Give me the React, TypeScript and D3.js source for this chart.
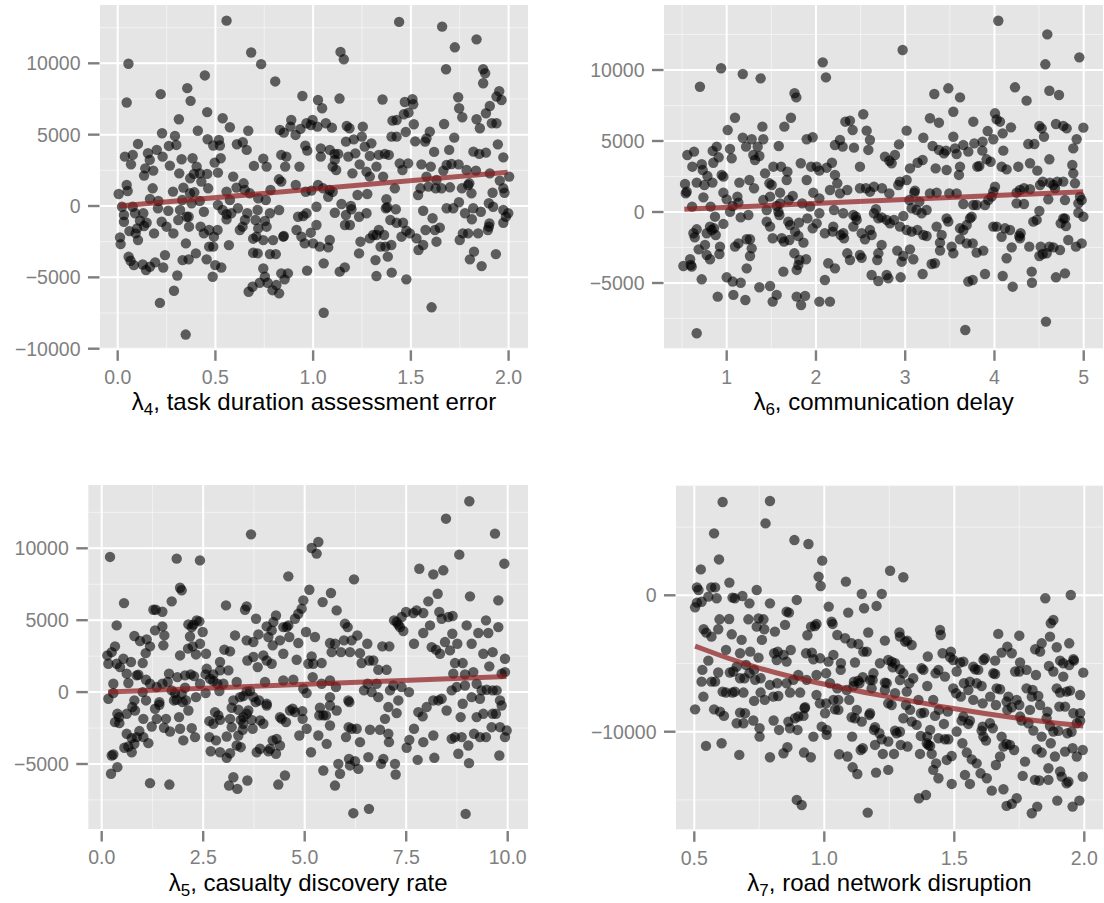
import React from 'react';
import * as d3 from 'd3';

type Pt = [number, number];

// ---------- λ4, task duration assessment error ----------
const lambda4Points: Pt[] = [
[0.557,12990],[0.055,9970],[0.046,7250],[0.22,7840],[0.356,8260],[0.373,7370],[0.446,9150],[0.458,6580],[0.683,10760],[0.734,9940],[0.806,8730],[0.313,6080],[0.537,6150],[0.574,5520],[0.41,5270],[0.46,4680],[0.518,4630],[0.489,4240],[0.523,4240],[0.668,5270],[0.61,4330],[0.64,4470],[0.66,3930],[0.227,5100],[0.293,4910],[0.262,4210],[0.3,4280],[0.104,4350],[0.037,3460],[0.077,3580],[0.068,2920],[0.155,3700],[0.2,3930],[0.164,3230],[0.23,3460],[0.141,2640],[0.182,2480],[0.135,2130],[0.267,2830],[0.327,3280],[0.383,3350],[0.404,2760],[0.39,2250],[0.42,2290],[0.315,2290],[0.371,1940],[0.458,2250],[0.496,3040],[0.527,3350],[0.513,2340],[0.428,1710],[0.697,2810],[0.745,3320],[0.762,2760],[0.591,2060],[0.644,1590],[0.608,1290],[0.65,1120],[0.046,1470],[0.005,840],[0.051,1050],[0.179,1240],[0.283,1010],[0.336,1290],[0.37,890],[0.392,960],[0.463,1240],[0.557,1010],[0.574,420],[0.676,890],[0.719,540],[0.758,420],[0.782,1120],[0.022,-50],[0.077,-50],[0.032,-630],[0.032,-1100],[0.089,-510],[0.131,-510],[0.165,490],[0.208,350],[0.206,-160],[0.259,-330],[0.319,-280],[0.33,420],[0.378,190],[0.42,350],[0.441,-400],[0.31,-980],[0.363,-750],[0.513,70],[0.537,-280],[0.557,-580],[0.581,-510],[0.615,-160],[0.663,-510],[0.716,-280],[0.779,-510],[0.753,-1050],[0.114,-1030],[0.148,-1170],[0.099,-1570],[0.092,-1920],[0.06,-1760],[0.135,-1400],[0.186,-1920],[0.225,-1100],[0.25,-1450],[0.285,-1920],[0.353,-750],[0.365,-1450],[0.424,-1450],[0.441,-1920],[0.468,-1680],[0.492,-2150],[0.511,-1680],[0.557,-940],[0.625,-1680],[0.639,-1450],[0.651,-980],[0.705,-980],[0.719,-1570],[0.762,-1450],[0.693,-2290],[0.71,-2150],[0.745,-2390],[0.795,-2390],[0.012,-2200],[0.015,-2670],[0.104,-2390],[0.349,-2620],[0.468,-2850],[0.489,-2850],[0.569,-2740],[0.693,-3280],[0.716,-3320],[0.779,-3370],[0.242,-3440],[0.233,-4310],[0.056,-3560],[0.066,-3840],[0.083,-4140],[0.128,-4100],[0.145,-4490],[0.165,-4260],[0.192,-3950],[0.332,-3790],[0.363,-3740],[0.4,-3320],[0.455,-3740],[0.499,-4140],[0.53,-4310],[0.305,-4870],[0.486,-4960],[0.288,-5940],[0.745,-4380],[0.753,-4960],[0.727,-5380],[0.69,-5660],[0.67,-6010],[0.767,-5380],[0.792,-5900],[0.216,-6790],[0.348,-9010],
[1.44,12900],[1.66,12570],[1.725,11120],[1.836,11680],[1.68,9580],[1.87,9580],[1.88,9300],[1.87,8600],[1.14,10800],[1.157,10280],[0.945,7710],[1.025,7430],[1.046,6850],[1.135,7530],[1.355,7460],[1.469,7290],[1.508,7480],[1.512,7130],[1.742,7620],[1.747,6850],[1.763,6220],[1.952,8040],[1.964,7430],[1.938,7670],[1.904,7010],[1.884,6500],[1.914,5800],[1.938,5800],[1.836,6080],[1.853,5450],[1.67,5750],[1.406,5980],[1.427,6030],[1.464,6430],[1.488,6540],[1.515,5730],[1.474,5190],[1.427,4860],[1.401,4860],[1.522,4530],[1.58,4740],[1.597,5210],[1.722,4790],[1.696,3930],[1.945,4320],[1.973,3410],[1.82,3810],[1.85,3650],[1.884,3740],[1.619,3790],[1.573,4510],[0.83,5330],[0.85,5140],[0.888,6030],[0.884,5560],[0.91,4980],[0.935,5400],[0.966,5800],[0.988,5680],[0.997,6030],[1.022,5560],[1.065,5800],[1.096,5490],[1.172,5610],[1.186,5450],[1.254,5560],[0.96,4230],[0.97,3880],[1.039,4040],[1.039,3460],[1.085,3930],[1.11,3650],[1.128,3650],[1.111,3230],[1.1,2760],[1.118,2520],[1.168,4510],[1.208,4670],[1.249,4860],[1.216,3690],[1.18,3460],[1.264,4160],[1.298,4390],[1.29,3510],[1.336,3580],[1.367,3650],[1.387,3580],[1.238,2920],[1.201,2290],[1.273,2410],[1.324,2760],[1.29,2060],[1.358,2060],[1.443,2990],[1.457,2520],[1.486,2990],[1.554,2920],[1.602,2760],[1.58,2060],[1.666,2480],[1.683,2870],[1.708,2940],[1.744,2920],[1.785,2520],[1.833,2480],[1.904,2290],[1.955,1780],[2.003,2060],[1.973,1240],[1.918,930],[1.979,930],[0.837,3580],[0.863,3460],[0.857,2760],[0.93,2760],[0.825,1870],[0.837,1710],[0.911,1470],[0.962,1000],[0.991,1080],[1.025,1470],[1.051,1240],[1.085,1120],[1.1,1000],[1.077,650],[1.227,770],[1.277,840],[1.418,1240],[1.537,770],[1.549,1240],[1.59,1360],[1.627,1240],[1.631,1820],[1.657,1240],[1.7,1310],[1.761,1240],[1.793,1470],[1.799,1590],[1.81,890],[1.375,470],[1.372,-160],[1.423,-230],[1.379,-90],[1.145,140],[1.193,0],[1.017,-50],[1.111,-470],[0.826,-280],[0.923,-750],[0.949,-700],[0.966,-510],[0.915,-1680],[0.94,-2150],[0.847,-2150],[0.988,-1870],[1.017,-1330],[0.957,-2620],[1.0,-2620],[1.034,-2850],[1.077,-2900],[1.085,-2380],[1.168,-630],[1.196,-230],[1.163,-1330],[1.188,-1330],[1.235,-750],[1.273,-510],[1.307,-2030],[1.242,-2500],[1.235,-3320],[1.29,-2270],[1.324,-2030],[1.336,-1680],[1.345,-2850],[1.363,-2030],[1.37,-2850],[1.382,-3550],[1.319,-3790],[1.324,-4910],[1.4,-2730],[1.395,-980],[1.427,-1170],[1.46,-1170],[1.452,-2150],[1.477,-1730],[1.495,-1920],[1.529,-2270],[1.539,-3080],[1.563,-2730],[1.402,-4670],[1.477,-5140],[1.563,-330],[1.611,-860],[1.575,-1680],[1.623,-1680],[1.631,-2500],[1.648,-1520],[1.683,-160],[1.717,-160],[1.746,260],[1.777,-510],[1.819,-160],[1.812,-930],[1.75,-2380],[1.766,-1920],[1.793,-1920],[1.844,-1920],[1.894,-1680],[1.902,-1220],[1.899,-1450],[1.858,-400],[1.899,190],[1.921,-50],[1.973,-280],[1.986,-750],[1.998,-510],[1.973,-1170],[1.802,-3740],[1.823,-3200],[1.862,-4210],[1.935,-3370],[1.606,-7100],[1.054,-7480],[1.136,-4600],[1.162,-4300],[0.969,-4530],[1.054,-4020],[0.854,-5140],[0.837,-4720],[0.871,-4720],[0.812,-5540],[0.826,-6120],[0.85,-2100],[0.809,-3370]
];
const lambda4Smooth: Pt[] = [[0.007, 0], [1.995, 2360]];
const lambda4XTicks = [0, 0.5, 1, 1.5, 2];
const lambda4YTicks = [-10000, -5000, 0, 5000, 10000];

// ---------- λ6, communication delay ----------
const lambda6Points: Pt[] = [
[0.937,10120],[1.18,9720],[1.38,9410],[0.70,8820],[1.76,8360],[1.78,8070],[2.076,10540],[1.093,6640],[1.011,5770],[1.72,6640],[1.646,6010],[1.4,6010],[1.18,5230],[1.28,5120],[1.41,5120],[1.217,4600],[1.347,4600],[1.583,4650],[1.896,5120],[1.963,5260],[0.888,4600],[1.037,4440],[1.056,3780],[0.634,4250],[0.559,4010],[0.843,4300],[0.91,3850],[0.85,3470],[0.72,3360],[0.615,3190],[0.731,2960],[0.784,2530],[0.944,2610],[0.963,2490],[1.317,3660],[1.298,4010],[1.366,3940],[1.43,2720],[1.523,3190],[1.609,3190],[1.68,2840],[1.672,2250],[1.83,3430],[1.896,2250],[1.945,3190],[2.008,3190],[2.038,2910],[1.254,2250],[1.306,1670],[1.478,2020],[1.504,1900],[1.598,1360],[1.598,610],[1.74,1130],[0.533,1970],[0.541,1310],[0.552,1430],[0.664,2070],[0.75,1900],[0.84,2070],[0.739,1030],[0.82,380],[0.963,1360],[1.0,890],[1.12,1080],[1.131,660],[1.142,2070],[1.067,420],[0.612,380],[1.448,140],[1.41,840],[1.486,1080],[1.56,420],[1.579,20],[1.695,840],[1.845,610],[1.934,380],[1.97,1360],[2.038,960],[1.037,20],[1.157,-380],[1.243,-210],[0.869,-330],[0.963,-840],[1.448,-680],[1.486,-1030],[1.59,-210],[1.69,-680],[1.71,-920],[1.81,-750],[1.766,-1380],[1.904,-450],[2.008,-800],[2.038,-90],[1.963,-1150],[0.627,-1500],[0.642,-1780],[0.664,-1220],[0.776,-1500],[0.813,-1030],[0.832,-1270],[0.858,-1150],[0.877,-1620],[0.757,-2320],[0.686,-2630],[0.776,-3030],[0.925,-2440],[0.918,-2960],[0.813,-3330],[1.093,-2440],[1.131,-2210],[1.224,-1920],[1.261,-1920],[1.28,-2560],[1.261,-3100],[1.515,-1850],[1.616,-1850],[1.642,-2090],[1.702,-1970],[1.803,-1690],[1.86,-2160],[1.758,-2910],[1.814,-3380],[1.889,-3330],[1.803,-3730],[1.784,-4080],[1.635,-4200],[2.10,-1500],[0.515,-3800],[0.59,-3330],[0.597,-3730],[0.608,-3850],[0.72,-4740],[1.0,-4600],[1.067,-4900],[1.157,-4980],[1.224,-3970],[1.366,-5300],[1.486,-5210],[1.56,-5840],[1.515,-6310],[0.899,-5960],[1.075,-5840],[1.209,-6200],[1.784,-5960],[1.833,-6550],[1.878,-5910],[2.038,-6310],[0.664,-8540],[2.10,-4790],
[2.112,9480],[4.043,13470],[4.592,12510],[4.57,10400],[4.951,10890],[2.971,11410],[3.483,8710],[3.326,8310],[3.614,8070],[3.539,7060],[4.23,8780],[4.36,7840],[4.615,8540],[4.723,8240],[2.53,6880],[2.329,6360],[2.381,6430],[2.411,5770],[2.568,5730],[2.605,5070],[2.587,4370],[2.269,5070],[2.213,4720],[2.299,4600],[2.426,4530],[2.493,3190],[2.179,3470],[2.213,2610],[2.12,3120],[2.93,4760],[3.016,5730],[3.277,6600],[3.378,6290],[3.203,5230],[3.307,4650],[3.378,4370],[3.457,4320],[3.434,4130],[3.539,5300],[3.558,4480],[3.576,4080],[3.651,4720],[3.707,4250],[3.763,6360],[3.774,4830],[3.867,4950],[3.864,4320],[3.924,5700],[3.987,5120],[4.006,6950],[4.024,6520],[4.062,6360],[4.099,4320],[4.185,5960],[4.092,5540],[4.379,4790],[4.447,4790],[4.503,6060],[4.529,5890],[4.555,5300],[4.689,6200],[4.771,6060],[4.809,5890],[4.996,5940],[4.921,5120],[4.883,4480],[4.872,3310],[4.883,2720],[4.902,2020],[4.615,3710],[4.398,3430],[4.48,2910],[4.267,3190],[4.136,3000],[4.08,3190],[3.957,3540],[3.912,3710],[3.83,3240],[3.808,3190],[3.614,3190],[3.602,2610],[3.464,2960],[3.341,3070],[3.195,3660],[3.139,3470],[3.053,3070],[3.016,2250],[2.941,2140],[2.923,1900],[2.822,3610],[2.848,3430],[2.773,3900],[2.885,4010],[2.493,1670],[2.56,1670],[2.605,1430],[2.65,1780],[2.74,1670],[2.822,1310],[2.239,2020],[2.157,1550],[2.351,1550],[3.109,1500],[3.102,1360],[3.277,1310],[3.352,1360],[3.494,1310],[3.576,1310],[4.006,1780],[3.987,1430],[3.968,1080],[3.931,840],[4.248,1360],[4.286,1550],[4.331,1670],[4.398,1600],[4.51,1900],[4.54,2140],[4.66,1900],[4.678,1670],[4.622,2070],[4.704,2140],[4.771,2140],[4.958,1080],[4.977,840],[4.94,610],[4.79,840],[4.603,890],[4.503,70],[4.331,560],[4.248,610],[3.8,490],[3.894,490],[3.763,490],[3.651,560],[3.158,730],[3.128,140],[3.072,260],[3.046,840],[3.24,140],[3.184,-90],[2.269,1310],[2.202,140],[2.306,-90],[2.419,-210],[2.448,-330],[2.672,190],[2.65,-90],[2.699,-450],[2.736,-380],[2.792,-560],[2.829,-800],[2.874,-560],[2.979,-280],[2.941,-1030],[3.016,-1270],[3.072,-1380],[3.136,-1270],[3.203,-1620],[3.24,-1690],[3.352,-1030],[3.408,-1620],[3.464,-450],[3.483,-680],[3.614,-1150],[3.689,-920],[3.726,-450],[3.744,-330],[3.651,-1270],[3.614,-1920],[3.689,-2210],[3.756,-2210],[3.8,-2860],[3.875,-2720],[3.539,-2910],[3.52,-2440],[3.39,-2160],[3.39,-2720],[3.333,-3610],[3.296,-3660],[3.195,-4370],[3.091,-3330],[3.053,-2630],[2.979,-3100],[2.911,-2720],[2.96,-3500],[2.949,-4600],[2.792,-4440],[2.811,-4670],[2.699,-4860],[2.624,-4440],[2.699,-2910],[2.687,-3380],[2.736,-2320],[2.624,-1620],[2.605,-1270],[2.512,-1500],[2.549,-1920],[2.493,-3030],[2.512,-3220],[2.381,-3380],[2.351,-2910],[2.306,-1500],[2.314,-1850],[2.277,-1620],[2.194,-1030],[2.419,-1030],[2.456,-560],[2.187,-1380],[2.138,-3610],[2.213,-3970],[2.157,-6310],[3.987,-1030],[4.024,-1030],[4.08,-1740],[4.118,-1150],[4.174,-1270],[4.193,-2490],[4.136,-3260],[4.092,-4510],[4.204,-5260],[4.278,-1690],[4.286,-1850],[4.293,-1500],[4.39,-2440],[4.435,-680],[4.473,-560],[4.518,-2440],[4.503,-3100],[4.54,-2960],[4.585,-2910],[4.615,-2440],[4.66,-2490],[4.734,-2680],[4.742,-800],[4.771,-450],[4.801,-990],[4.827,-1970],[4.79,-450],[4.94,-50],[4.996,-330],[4.913,-2440],[4.977,-2210],[4.417,-4200],[4.42,-4980],[4.689,-4600],[4.79,-4320],[3.894,-4370],[3.707,-4900],[3.756,-4790],[4.577,-7720],[3.673,-8310]
];
const lambda6Smooth: Pt[] = [[0.525, 190], [4.995, 1430]];
const lambda6XTicks = [1, 2, 3, 4, 5];
const lambda6YTicks = [-5000, 0, 5000, 10000];

// ---------- λ5, casualty discovery rate ----------
const lambda5Points: Pt[] = [
[0.205,9400],[1.847,9280],[2.42,9160],[3.678,10970],[1.93,7260],[1.97,7080],[1.724,6310],[0.55,6190],[1.273,5730],[1.33,5730],[1.494,5590],[3.062,6030],[3.53,5730],[3.571,5960],[3.801,5100],[0.369,4640],[0.328,3180],[0.246,2780],[0.164,1970],[0.14,2550],[0.369,1970],[0.534,2320],[0.452,1740],[0.722,2090],[0.616,1280],[0.657,630],[0.287,580],[0.164,-460],[0.287,-70],[0.805,3900],[0.944,3550],[1.108,3670],[1.19,3180],[1.314,4290],[1.494,4570],[1.543,3940],[1.519,3250],[1.084,2710],[1.01,2020],[0.862,1160],[0.903,1210],[1.092,860],[1.01,0],[0.805,-580],[0.755,-1040],[0.821,-1280],[0.616,-1510],[0.386,-1510],[0.427,-1740],[0.328,-2090],[0.435,-2160],[1.026,-1860],[1.092,-580],[1.314,-1160],[1.42,-700],[1.355,-1860],[1.42,-880],[1.584,-1860],[1.535,-2480],[1.683,-2740],[0.928,-2710],[1.026,-3130],[1.149,-3550],[1.232,-2390],[0.616,-2900],[0.739,-3200],[0.805,-3600],[0.862,-3130],[0.657,-3780],[0.739,-4180],[0.558,-3870],[0.287,-4340],[0.246,-4410],[0.386,-5220],[0.23,-5680],[1.19,-6330],[1.667,-6430],[1.724,120],[1.806,-70],[1.847,-530],[1.78,-580],[1.97,-120],[2.053,300],[1.995,-700],[2.077,-580],[2.135,-1280],[1.905,-1740],[1.93,-2550],[2.011,-3360],[2.217,-2510],[2.299,-3130],[1.864,1040],[1.658,1280],[1.626,700],[1.494,580],[1.93,2550],[2.126,3020],[2.175,3870],[2.241,3180],[2.422,3360],[2.323,2620],[2.57,2670],[2.258,4690],[2.34,4990],[2.406,4920],[2.488,4180],[2.135,4710],[2.217,4520],[2.192,1230],[2.274,1110],[2.422,580],[2.56,1230],[2.668,930],[2.75,1230],[2.849,580],[2.898,70],[2.915,1510],[2.997,580],[3.021,2950],[2.915,2090],[3.12,1510],[2.323,-350],[2.56,-70],[2.652,-2020],[2.75,-2200],[2.791,-1390],[2.873,-1620],[2.915,-1930],[2.652,-3130],[2.685,-4110],[2.816,-3360],[2.915,-4180],[3.079,-4570],[3.161,-4250],[3.079,-3090],[3.202,-2440],[3.161,-1860],[3.202,-1090],[3.243,-580],[3.366,-1230],[3.424,-1930],[3.489,-2200],[3.473,-2620],[3.366,-3020],[3.325,-3710],[3.424,-3830],[3.489,-1740],[3.571,-1510],[3.612,-1280],[3.407,-350],[3.489,-280],[3.571,50],[3.653,70],[3.735,-350],[3.793,-700],[3.875,-580],[3.695,-1930],[3.719,-2550],[3.9,-1970],[3.982,-2200],[4.064,-810],[4.064,-930],[3.818,-4180],[3.9,-3940],[4.105,-4110],[4.146,-3940],[4.212,-3360],[3.588,-6150],[3.136,-6500],[3.243,-5920],[3.342,-6730],[3.284,3940],[3.161,2830],[3.588,2200],[3.735,2440],[3.842,1740],[3.859,4010],[4.064,4570],[4.187,4290],[4.105,3830],[4.212,3250],[4.228,4870],[3.982,2550],[4.064,2200],[4.187,1970],[4.023,700],[3.735,3480],[3.571,3600],[3.325,700],[2.75,770],[2.053,1160],[1.355,350],[1.19,580],[2.586,1620],
[9.055,13270],[8.48,12060],[9.687,11020],[8.808,9560],[9.917,8930],[5.171,10020],[5.336,10440],[5.294,9630],[7.823,8580],[8.168,8190],[8.414,8470],[4.597,8050],[6.214,7840],[5.114,7120],[5.647,6890],[5.442,6260],[5.787,5680],[4.966,6380],[4.925,5800],[4.843,5450],[4.761,5100],[4.293,5330],[4.597,4640],[4.473,4520],[4.621,3830],[4.391,3600],[4.473,2670],[4.802,2250],[4.843,3410],[5.032,4180],[5.171,2480],[5.089,1970],[5.253,3830],[5.212,1970],[5.417,2020],[5.623,3410],[5.664,2780],[5.746,3360],[5.894,2780],[5.992,4760],[6.058,4520],[5.967,3600],[6.156,3600],[6.115,2780],[6.296,3940],[6.362,2710],[6.542,3360],[6.403,2020],[6.591,2200],[6.69,2200],[6.813,1550],[7.018,1550],[7.084,3180],[6.912,3180],[7.2,4990],[7.265,4870],[7.388,5220],[7.495,5570],[7.675,5500],[7.757,5680],[7.921,5500],[7.429,4250],[7.347,4520],[7.306,4690],[7.692,3360],[8.045,6310],[8.275,6840],[8.316,5570],[8.373,5100],[8.537,5220],[8.644,5290],[8.086,4640],[7.921,4110],[8.127,3130],[8.234,2950],[8.332,2670],[8.578,2900],[8.455,3480],[8.759,3360],[8.636,4060],[8.989,4640],[9.112,3360],[9.276,4110],[9.399,2670],[9.465,4990],[9.522,4110],[9.629,2780],[9.769,4520],[9.769,6380],[9.071,6660],[9.933,2320],[9.933,1390],[9.851,1280],[9.547,1790],[9.153,1390],[8.948,1230],[8.891,2020],[8.702,2020],[8.66,1280],[8.62,120],[8.743,350],[8.948,460],[9.235,580],[9.358,120],[9.481,160],[9.629,120],[9.728,120],[9.81,-580],[9.629,-1510],[9.711,-1510],[9.851,-930],[9.399,-1510],[9.235,-1740],[9.317,-460],[9.112,-350],[8.891,-810],[8.841,-1740],[8.496,-1280],[8.373,-460],[8.291,-580],[8.168,-580],[8.004,-1040],[7.905,-1690],[7.798,-1390],[7.692,-2550],[7.577,-3320],[7.511,-3870],[7.782,-4710],[7.921,-3480],[8.168,-3020],[8.193,-4570],[8.62,-3250],[8.702,-3130],[8.784,-4290],[8.866,-3130],[9.03,-3710],[9.047,-4940],[9.17,-2900],[9.317,-3130],[9.465,-3130],[9.604,-2440],[9.81,-2440],[9.974,-2670],[9.933,-3130],[9.794,-4410],[8.964,-8470],[6.198,-8420],[6.583,-8120],[7.569,0],[7.388,350],[7.183,460],[7.101,120],[7.306,-580],[7.265,-1460],[7.06,-1040],[6.978,-1860],[7.06,-2900],[7.076,-3480],[7.224,-4990],[7.24,-5730],[6.879,-4990],[6.937,-4640],[6.772,580],[6.813,-350],[6.649,0],[6.55,580],[6.46,120],[6.608,-2620],[6.855,-2620],[6.567,-4520],[6.362,-3480],[6.321,-5340],[6.239,-4800],[6.091,-4640],[6.115,-5100],[6.28,-2550],[6.156,-2550],[6.017,-3130],[6.099,-700],[6.075,-580],[5.787,-1280],[5.623,-2320],[5.623,-930],[5.524,-1620],[5.459,-1620],[5.36,-1620],[5.376,-1090],[5.336,-3020],[5.541,-3600],[5.459,-5450],[5.828,-4990],[5.869,-5680],[5.746,-6500],[5.155,-4180],[5.048,-2550],[4.868,-3020],[4.949,-1860],[4.761,-1390],[4.703,-1160],[4.391,-1740],[4.432,-1860],[4.539,-2090],[4.638,-1280],[4.941,-1320],[5.048,-70],[4.966,230],[4.473,810],[4.72,860],[5.196,1040],[5.417,580],[5.623,810],[5.77,350],[5.623,-350],[6.083,-2440],[4.391,-3710],[4.293,-4290],[4.514,-5800],[4.35,-6430],[4.309,-3250],[4.555,4520]
];
const lambda5Smooth: Pt[] = [[0.16, 0], [9.97, 1090]];
const lambda5XTicks = [0, 2.5, 5, 7.5, 10];
const lambda5YTicks = [-5000, 0, 5000, 10000];

// ---------- λ7, road network disruption ----------
const lambda7Points: Pt[] = [
[0.609,6840],[0.791,6910],[0.774,5270],[0.576,4540],[0.885,4050],[0.939,3760],[0.595,2630],[0.525,1900],[0.992,2540],[0.978,1370],[0.986,680],[0.635,930],[0.51,580],[0.516,390],[0.565,580],[0.58,580],[0.554,-100],[0.586,-220],[0.647,-170],[0.656,-220],[0.685,-50],[0.74,390],[0.712,-590],[0.791,-590],[0.894,-340],[0.51,-540],[0.503,-880],[0.528,-470],[0.536,-2490],[0.546,-2740],[0.566,-3030],[0.597,-1760],[0.592,-2490],[0.634,-1740],[0.644,-2860],[0.682,-3270],[0.708,-1760],[0.747,-1690],[0.74,-2300],[0.766,-1760],[0.769,-2490],[0.76,-3270],[0.81,-2660],[0.849,-2170],[0.855,-1200],[0.864,-1270],[0.949,-2300],[0.964,-2250],[0.97,-2100],[0.935,-2930],[0.952,-4200],[0.622,-4000],[0.676,-4250],[0.663,-5230],[0.699,-5110],[0.715,-4130],[0.747,-4570],[0.807,-4250],[0.821,-4130],[0.843,-4370],[0.817,-4740],[0.855,-4860],[0.871,-4010],[0.93,-4250],[0.958,-4690],[0.984,-4620],[0.554,-4790],[0.531,-5470],[0.592,-5660],[0.637,-5660],[0.65,-5590],[0.676,-6080],[0.693,-6080],[0.712,-5710],[0.73,-5470],[0.734,-6200],[0.755,-6080],[0.791,-6570],[0.819,-6450],[0.855,-6450],[0.881,-6200],[0.9,-5840],[0.932,-6200],[0.97,-5840],[0.528,-6330],[0.566,-6330],[0.58,-6330],[0.609,-7060],[0.622,-7130],[0.647,-7130],[0.656,-7060],[0.689,-7130],[0.73,-7740],[0.755,-7130],[0.771,-7670],[0.804,-7430],[0.823,-7380],[0.868,-7130],[0.907,-7130],[0.926,-8210],[0.97,-7300],[0.983,-7920],[0.503,-8360],[0.535,-7430],[0.576,-8360],[0.599,-8530],[0.614,-8840],[0.676,-8600],[0.695,-8650],[0.663,-9380],[0.689,-9380],[0.727,-9180],[0.751,-9750],[0.751,-10360],[0.805,-9180],[0.826,-9870],[0.862,-9260],[0.887,-9010],[0.9,-8890],[0.868,-9750],[0.897,-9870],[0.92,-8840],[0.924,-8280],[0.958,-10360],[0.99,-9630],[0.545,-11040],[0.605,-10850],[0.673,-11700],[0.791,-11870],[0.843,-11580],[0.858,-11140],[0.922,-11530],[0.948,-11870],[0.894,-15000],[0.913,-15370],
[1.253,1800],[1.304,1320],[1.083,1000],[1.144,100],[1.221,100],[1.201,-780],[1.153,-950],[1.092,-1270],[1.017,-830],[1.028,-1930],[1.032,-2100],[1.05,-2910],[1.08,-3150],[1.105,-3520],[1.131,-3570],[1.15,-4130],[1.163,-4130],[1.169,-2730],[1.233,-3320],[1.289,-2730],[1.291,-3030],[1.311,-3400],[1.319,-3320],[1.336,-3640],[1.445,-2540],[1.448,-2910],[1.455,-4250],[1.487,-4130],[1.484,-4540],[1.496,-4740],[1.522,-4930],[1.535,-4860],[1.573,-5230],[1.509,-5590],[1.398,-4490],[1.374,-5350],[1.342,-6080],[1.304,-5720],[1.291,-6210],[1.272,-4980],[1.259,-4860],[1.263,-5280],[1.246,-4740],[1.214,-4980],[1.189,-5720],[1.186,-6210],[1.118,-4930],[1.064,-4980],[1.063,-5470],[1.035,-4370],[1.016,-4860],[1.007,-5720],[1.131,-6260],[1.135,-6450],[1.176,-6210],[1.182,-6820],[1.233,-6400],[1.233,-6940],[1.259,-8040],[1.24,-6450],[1.272,-7180],[1.317,-7060],[1.314,-8040],[1.327,-6450],[1.362,-7670],[1.372,-8650],[1.384,-8600],[1.396,-6650],[1.419,-7670],[1.426,-8840],[1.428,-5720],[1.439,-5470],[1.464,-5960],[1.496,-6820],[1.507,-7180],[1.525,-7430],[1.537,-6450],[1.554,-6940],[1.573,-7670],[1.586,-6450],[1.605,-6650],[1.609,-7920],[1.638,-7430],[1.65,-5720],[1.676,-6890],[1.669,-2830],[1.657,-4790],[1.682,-4200],[1.704,-3760],[1.721,-4250],[1.75,-2960],[1.753,-4930],[1.734,-5590],[1.778,-6820],[1.798,-7430],[1.823,-7380],[1.83,-8040],[1.814,-5840],[1.83,-4130],[1.811,-3960],[1.836,-3520],[1.868,-3030],[1.894,-3810],[1.871,-2050],[1.881,-1810],[1.85,-220],[1.948,20],[1.942,-5110],[1.958,-4690],[1.996,-5670],[1.864,-5180],[1.881,-5590],[1.894,-6820],[1.919,-5960],[1.932,-7060],[1.945,-6990],[1.984,-7310],[1.907,-7130],[1.904,-8160],[1.926,-8160],[1.958,-8650],[1.984,-8650],[1.984,-9190],[1.971,-9380],[1.951,-10000],[1.935,-10110],[1.9,-9940],[1.868,-9580],[1.836,-10360],[1.855,-9010],[1.858,-8530],[1.881,-9990],[1.871,-10850],[1.817,-11290],[1.836,-11530],[1.887,-11820],[1.926,-11460],[1.955,-11210],[1.994,-11340],[1.971,-11820],[1.907,-12920],[1.913,-13290],[1.939,-13660],[1.932,-13780],[1.994,-13290],[1.772,-12190],[1.763,-13240],[1.81,-13530],[1.827,-13580],[1.862,-12680],[1.862,-13530],[1.896,-15050],[1.955,-15490],[1.981,-15050],[1.819,-15490],[1.798,-15980],[1.74,-14880],[1.721,-15290],[1.701,-15440],[1.689,-14220],[1.644,-14320],[1.66,-12440],[1.625,-13410],[1.601,-13050],[1.586,-12320],[1.567,-12030],[1.56,-13830],[1.541,-13170],[1.49,-13830],[1.49,-11780],[1.471,-12070],[1.439,-13410],[1.43,-12320],[1.419,-12800],[1.413,-11630],[1.394,-10850],[1.407,-11040],[1.439,-10480],[1.464,-10550],[1.477,-10550],[1.531,-10850],[1.548,-11530],[1.612,-10360],[1.622,-10650],[1.605,-9920],[1.609,-9630],[1.637,-9380],[1.648,-9750],[1.682,-10360],[1.689,-11090],[1.701,-10900],[1.714,-10970],[1.73,-11340],[1.676,-11820],[1.554,-9430],[1.535,-8890],[1.528,-9190],[1.56,-9190],[1.509,-9990],[1.46,-9430],[1.475,-8530],[1.441,-8400],[1.407,-9870],[1.396,-10360],[1.4,-10970],[1.371,-10310],[1.355,-9500],[1.336,-9260],[1.304,-9010],[1.291,-10000],[1.272,-9920],[1.294,-10970],[1.32,-11090],[1.278,-10110],[1.368,-11630],[1.268,-11630],[1.225,-11630],[1.246,-10720],[1.221,-10550],[1.212,-10110],[1.195,-10970],[1.195,-9670],[1.191,-9870],[1.176,-8650],[1.173,-8770],[1.144,-9260],[1.125,-8400],[1.118,-9010],[1.105,-8940],[1.096,-7670],[1.054,-8400],[1.041,-8360],[1.007,-7920],[1.003,-8650],[1.009,-9870],[1.009,-10230],[1.107,-10360],[1.057,-11650],[1.089,-11820],[1.109,-12610],[1.127,-13100],[1.199,-13000],[1.246,-12800],[1.148,-11210],[1.14,-11340],[1.364,-14880],[1.391,-14640],[1.167,-15930],[1.148,-6010],[1.114,-6330],[1.022,-6450],[1.05,-6820],[1.086,-6940],[1.112,-6650],[1.381,-5470],[1.56,-6330],[1.592,-5470],[1.612,-4740],[1.618,-4620],[1.58,-5420],[1.657,-5770],[1.663,-6820],[1.701,-7790],[1.704,-8400],[1.74,-7670],[1.75,-8040],[1.753,-8890],[1.791,-8400],[1.785,-9380],[1.804,-9920],[1.759,-9190],[1.721,-8210],[1.66,-8040],[1.708,-7430],[1.75,-5590],[1.778,-5470],[1.801,-6940],[1.942,-3520],[1.96,-4790],[1.907,-4790],[1.919,-4980],[1.291,-5420],[1.33,-8400],[1.035,-7670],[1.054,-7670],[1.246,-7920]
];
const lambda7Smooth: Pt[] = [[0.503,-3720],[0.714,-5230],[0.971,-6450],[1.24,-7420],[1.496,-8330],[1.753,-9060],[1.996,-9580]];
const lambda7XTicks = [0.5, 1, 1.5, 2];
const lambda7YTicks = [-10000, 0];

// ---------- layout (positions / axis limits) ----------
interface PanelCfg {
  id: string;
  sub: string;
  title: string;
  points: Pt[];
  smooth: Pt[];
  curved: boolean;
  xTicks: number[];
  yTicks: number[];
  xFmt: (v: number) => string;
  xDomain: [number, number];
  yDomain: [number, number];
  box: { l: number; r: number; t: number; b: number };
}

const fmt1 = d3.format('.1f');
const fmt0 = d3.format('d');

const panels: PanelCfg[] = [
  { id: 'p4', sub: '4', title: ', task duration assessment error', points: lambda4Points, smooth: lambda4Smooth, curved: false,
    xTicks: lambda4XTicks, yTicks: lambda4YTicks, xFmt: fmt1, xDomain: [-0.0905, 2.0993], yDomain: [-9972, 14086],
    box: { l: 100, r: 528, t: 5, b: 348.3 } },
  { id: 'p6', sub: '6', title: ', communication delay', points: lambda6Points, smooth: lambda6Smooth, curved: false,
    xTicks: lambda6XTicks, yTicks: lambda6YTicks, xFmt: fmt0, xDomain: [0.2975, 5.216], yDomain: [-9599, 14577],
    box: { l: 664, r: 1103, t: 5, b: 348.3 } },
  { id: 'p5', sub: '5', title: ', casualty discovery rate', points: lambda5Points, smooth: lambda5Smooth, curved: false,
    xTicks: lambda5XTicks, yTicks: lambda5YTicks, xFmt: fmt1, xDomain: [-0.33, 10.5], yDomain: [-9520, 14402],
    box: { l: 88.3, r: 528, t: 485, b: 829 } },
  { id: 'p7', sub: '7', title: ', road network disruption', points: lambda7Points, smooth: lambda7Smooth, curved: true,
    xTicks: lambda7XTicks, yTicks: lambda7YTicks, xFmt: fmt1, xDomain: [0.4296, 2.0719], yDomain: [-17155, 8035],
    box: { l: 676, r: 1103, t: 485.7, b: 829.3 } },
];

function minorTicks(major: number[], domain: [number, number]): number[] {
  const step = major[1] - major[0];
  const out: number[] = [];
  const start = major[0] - step;
  for (let v = start + step / 2; v <= major[major.length - 1] + step; v += step) {
    if (v > domain[0] && v < domain[1]) out.push(v);
  }
  return out;
}

const TICK_COLOR = '#7f7f7f';

function Panel({ cfg }: { cfg: PanelCfg }) {
  const { box } = cfg;
  const x = d3.scaleLinear().domain(cfg.xDomain).range([box.l, box.r]);
  const y = d3.scaleLinear().domain(cfg.yDomain).range([box.b, box.t]);
  const line = d3.line<Pt>().x(d => x(d[0])).y(d => y(d[1]))
    .curve(cfg.curved ? d3.curveBasis : d3.curveLinear);
  const xMinor = minorTicks(cfg.xTicks, cfg.xDomain);
  const yMinor = minorTicks(cfg.yTicks, cfg.yDomain);
  const yFmt = d3.format('d');
  const cx = (box.l + box.r) / 2;
  return (
    <g>
      <defs>
        <clipPath id={`clip-${cfg.id}`}>
          <rect x={box.l} y={box.t} width={box.r - box.l} height={box.b - box.t} />
        </clipPath>
      </defs>
      <rect x={box.l} y={box.t} width={box.r - box.l} height={box.b - box.t} fill="#e5e5e5" />
      <g clipPath={`url(#clip-${cfg.id})`}>
        {xMinor.map(v => (
          <line key={'xm' + v} x1={x(v)} x2={x(v)} y1={box.t} y2={box.b} stroke="#f2f2f2" strokeWidth={1} />
        ))}
        {yMinor.map(v => (
          <line key={'ym' + v} x1={box.l} x2={box.r} y1={y(v)} y2={y(v)} stroke="#f2f2f2" strokeWidth={1} />
        ))}
        {cfg.xTicks.map(v => (
          <line key={'xg' + v} x1={x(v)} x2={x(v)} y1={box.t} y2={box.b} stroke="#ffffff" strokeWidth={2} />
        ))}
        {cfg.yTicks.map(v => (
          <line key={'yg' + v} x1={box.l} x2={box.r} y1={y(v)} y2={y(v)} stroke="#ffffff" strokeWidth={2} />
        ))}
        {cfg.points.map((d, i) => (
          <circle key={i} cx={x(d[0])} cy={y(d[1])} r={5.2} fill="#000" fillOpacity={0.6} />
        ))}
        <path d={line(cfg.smooth) || ''} fill="none" stroke="#8b1a1a" strokeOpacity={0.7} strokeWidth={5} />
      </g>
      {cfg.yTicks.map(v => (
        <g key={'yt' + v}>
          <line x1={box.l - 12} x2={box.l - 0.5} y1={y(v)} y2={y(v)} stroke={TICK_COLOR} strokeWidth={2.4} />
          <text x={box.l - 19.5} y={y(v) + 7} textAnchor="end" fontSize={19.5} fill={TICK_COLOR}>{yFmt(v)}</text>
        </g>
      ))}
      {cfg.xTicks.map(v => (
        <g key={'xt' + v}>
          <line x1={x(v)} x2={x(v)} y1={box.b + 2} y2={box.b + 12.5} stroke={TICK_COLOR} strokeWidth={2.4} />
          <text x={x(v)} y={box.b + 35.3} textAnchor="middle" fontSize={19.5} fill={TICK_COLOR}>{cfg.xFmt(v)}</text>
        </g>
      ))}
      <text x={cx} y={box.b + 61.5} textAnchor="middle" fontSize={24} fill="#000">
        <tspan>λ</tspan>
        <tspan fontSize={17} dy={5}>{cfg.sub}</tspan>
        <tspan dy={-5}>{cfg.title}</tspan>
      </text>
    </g>
  );
}

export default function App() {
  return (
    <div style={{ position: 'absolute', left: 0, top: 0 }}>
      <svg width={1104} height={903} style={{ display: 'block', fontFamily: '"Liberation Sans", Arial, Helvetica, sans-serif' }}>
        <rect x={0} y={0} width={1104} height={903} fill="#ffffff" />
        {panels.map(p => <Panel key={p.id} cfg={p} />)}
      </svg>
    </div>
  );
}
